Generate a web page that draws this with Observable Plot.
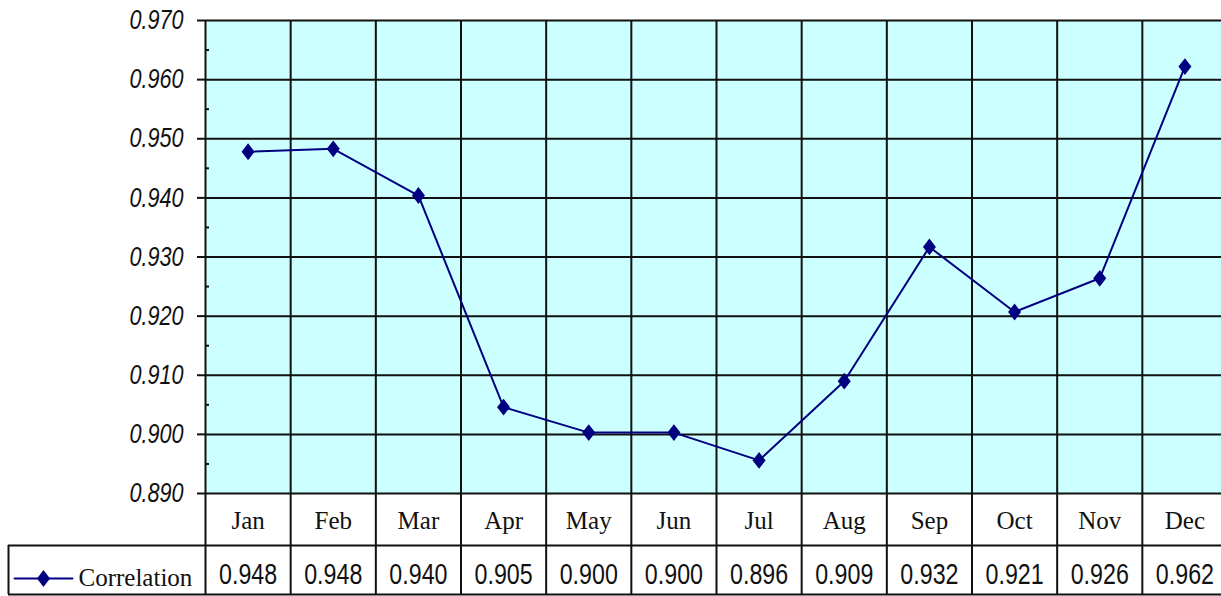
<!DOCTYPE html>
<html><head><meta charset="utf-8">
<script src="https://cdn.jsdelivr.net/npm/d3@7"></script>
<script src="https://cdn.jsdelivr.net/npm/@observablehq/plot@0.6"></script>
<style>
html,body{margin:0;padding:0;background:#fff;}
#wrap{width:1221px;height:596px;overflow:hidden;}
#wrap svg{max-width:none !important;display:block;}
</style></head><body><div id="wrap"></div>
<script>
const months = ["Jan","Feb","Mar","Apr","May","Jun","Jul","Aug","Sep","Oct","Nov","Dec"];
const correlation = [0.9478, 0.9483, 0.9404, 0.9046, 0.9003, 0.9003, 0.8956, 0.9090, 0.9317, 0.9207, 0.9264, 0.9622];
const yTicks = [0.89, 0.90, 0.91, 0.92, 0.93, 0.94, 0.95, 0.96, 0.97];
const yMinor = [0.895, 0.905, 0.915, 0.925, 0.935, 0.945, 0.955, 0.965];
const seriesName = "Correlation";

const fmt = d3.format(".3f");
const data = months.map((m, i) => ({month: m, i, value: correlation[i], label: fmt(correlation[i])}));

const W = 1221, H = 596, ML = 205, MR = -6, MT = 20, MB = 103;
const plotH = H - MT - MB;
const bandPx = (W - MR - ML) / months.length;
const yAt = d => 0.89 - d * (0.97 - 0.89) / plotH;   // d px below the axis
const xPx = p => (p - ML) / bandPx;                    // page px -> x units
const legendStart = xPx(8);

const navy = "#000080";
const sans = "'Liberation Sans',Arial,sans-serif";
const serif = "'Liberation Serif','Times New Roman',serif";

const diamond = {
  draw(context, size) {
    const r = Math.sqrt(size / Math.PI);
    const hh = r * 1.2, hw = r * 0.93;
    context.moveTo(0, -hh);
    context.lineTo(hw, 0);
    context.lineTo(0, hh);
    context.lineTo(-hw, 0);
    context.closePath();
  }
};

const chart = Plot.plot({
  width: W, height: H,
  marginLeft: ML, marginRight: MR, marginTop: MT, marginBottom: MB,
  x: {domain: [0, months.length], axis: null},
  y: {domain: [0.89, 0.97], axis: null},
  marks: [
    Plot.frame({fill: "#ccffff", stroke: null}),
    Plot.ruleY(yTicks, {stroke: "#111", strokeWidth: 2}),
    Plot.ruleY(yMinor, {x1: 0, x2: xPx(ML + 4), stroke: "#111", strokeWidth: 2}),
    Plot.axisY(yTicks, {tickSize: 8, tickPadding: 14, tickFormat: ".3f", label: null, stroke: "#111", strokeWidth: 2,
      fontSize: 27, fontStyle: "italic", fontFamily: sans, fill: "#111"}),
    Plot.ruleX(d3.range(months.length + 1), {y1: 0.97, y2: yAt(MB - 2), stroke: "#111", strokeWidth: 2}),
    Plot.ruleY([yAt(52), yAt(MB - 2)], {x1: legendStart, x2: months.length, stroke: "#111", strokeWidth: 2}),
    Plot.ruleX([legendStart], {y1: yAt(52), y2: yAt(MB - 2), stroke: "#111", strokeWidth: 2}),
    Plot.line(data, {x: d => d.i + 0.5, y: "value", stroke: navy, strokeWidth: 2}),
    Plot.dot(data, {x: d => d.i + 0.5, y: "value", symbol: diamond, r: 7, fill: navy, stroke: null}),
    Plot.text(data, {x: d => d.i + 0.5, y: () => yAt(27), text: "month", fontFamily: serif, fontSize: 25, fill: "#111"}),
    Plot.text(data, {x: d => d.i + 0.5, y: () => yAt(81), text: "label", fontFamily: sans, fontSize: 29, fill: "#111"}),
    Plot.line([xPx(14), xPx(72)], {x: d => d, y: () => yAt(85), stroke: navy, strokeWidth: 2}),
    Plot.dot([xPx(43)], {x: d => d, y: () => yAt(85), symbol: diamond, r: 7, fill: navy, stroke: null}),
    Plot.text([seriesName], {x: () => xPx(78), y: () => yAt(84), text: d => d, textAnchor: "start", fontFamily: serif, fontSize: 25, fill: "#111"})
  ]
});
document.getElementById("wrap").appendChild(chart);

// narrow the sans-serif numerals (the reference uses a condensed screen font)
chart.querySelectorAll("g[font-family*='Liberation Sans'] text").forEach(t => {
  const len = t.getComputedTextLength();
  if (len > 0) {
    t.setAttribute("textLength", (len * 0.8).toFixed(1));
    t.setAttribute("lengthAdjust", "spacingAndGlyphs");
  }
});
</script></body></html>
